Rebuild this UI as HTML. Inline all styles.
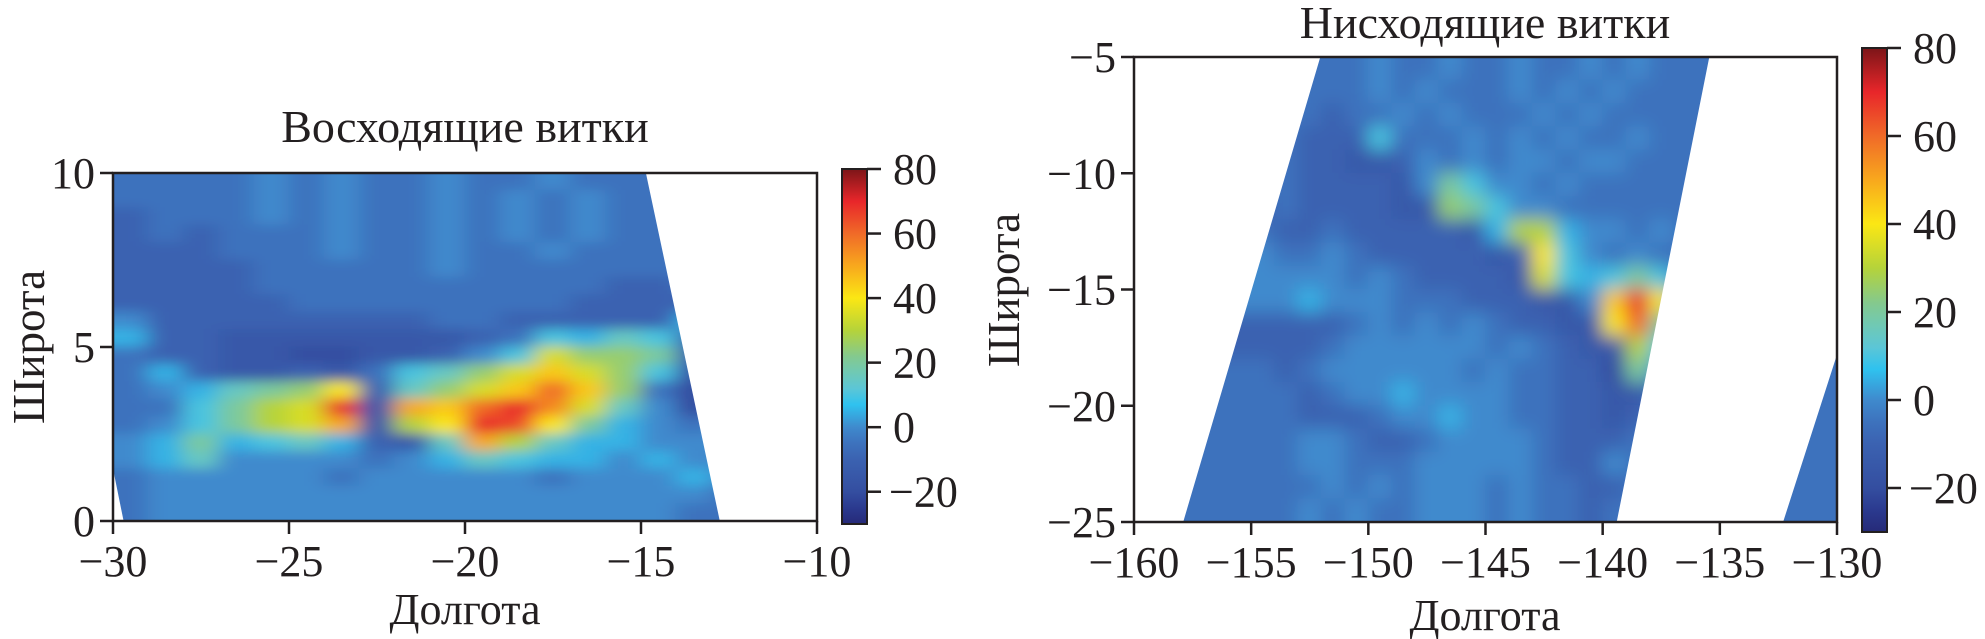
<!DOCTYPE html>
<html><head><meta charset="utf-8">
<style>
html,body{margin:0;padding:0;background:#fff;}
svg{display:block;font-family:"Liberation Serif",serif;}
</style></head>
<body>
<svg id="fig" width="1985" height="639" viewBox="0 0 1985 639" xmlns="http://www.w3.org/2000/svg">
<defs>
<linearGradient id="cbgrad" x1="0" y1="1" x2="0" y2="0"></linearGradient>
<filter id="blurL" filterUnits="userSpaceOnUse" x="0" y="0" width="1985" height="639"><feGaussianBlur stdDeviation="11 6"/></filter>
<filter id="blurR" filterUnits="userSpaceOnUse" x="0" y="0" width="1985" height="639"><feGaussianBlur stdDeviation="9 9"/></filter>
</defs>
<text x="465" y="142" font-size="46" text-anchor="middle" fill="#231f20">Восходящие витки</text>
<text x="1485" y="38" font-size="46" text-anchor="middle" fill="#231f20">Нисходящие витки</text>
<text x="465" y="624" font-size="44" text-anchor="middle" fill="#231f20">Долгота</text>
<text x="1485" y="630" font-size="44" text-anchor="middle" fill="#231f20">Долгота</text>
<text transform="translate(44,347) rotate(-90)" font-size="45" text-anchor="middle" fill="#231f20">Широта</text>
<text transform="translate(1019,290) rotate(-90)" font-size="45" text-anchor="middle" fill="#231f20">Широта</text>
</svg>
<script>
// ---- data ----
const levelChars = "0123456789abcdefghijklm"; // value = -30 + 5*k
const leftGrid = [
"55556565565565555555",
"55556565565656555555",
"45556565565656555555",
"45455565565656555555",
"44455565565565555555",
"44445555565555555555",
"44445555555555445555",
"44444555555554444555",
"64444444455444447655",
"74433333334587984555",
"54433223346" + "8dbba4555",
"57433435" + "89bdfdb8" + "3555",
"5679abe49bdfifb52455",
"558acdk3gfikhd962455",
"568acdg3cekjea765655",
"67a7897439gc97766655",
"67966665679877676655",
"56666656666656667655",
"56666666666666666555",
"56666666666666665555"
];
const rightGrid = [
"555555555565565565565655555555",
"555555555565655565656555555555",
"555555554556565556565555555555",
"555555544485556565655655555555",
"555555544334656566566555555555",
"5555555444436a86656" + "55555555555",
"5555545444433ba8665" + "55555555555",
"55555544544444" + "37cc76" + "6565555555",
"55556" + "6556544444" + "34e86" + "5655555555",
"55566" + "66665654444" + "3d878a8" + "5555555",
"55666" + "667666555444" + "336fke" + "5555555",
"55544" + "4444565656544" + "33eia" + "5555555",
"55544" + "44456666665654" + "33c8" + "5555555",
"55555" + "545666666565544" + "2a6" + "5555555",
"55555" + "554566766665544" + "33" + "55555555",
"55555" + "554445667665544" + "3" + "455555555",
"55555" + "556654456666544" + "4" + "555555555",
"55555" + "556655566666544" + "6" + "555555555",
"55555" + "555656566656554" + "4" + "555555555",
"55555" + "556565566656554" + "5" + "555555555"
];
const cbTicks = [80, 60, 40, 20, 0, -20];
const leftXTicks = [-30, -25, -20, -15, -10];
const leftYTicks = [0, 5, 10];
const rightXTicks = [-160, -155, -150, -145, -140, -135, -130];
const rightYTicks = [-25, -20, -15, -10, -5];
const cmapValues = [-30, -25, -20, -10, -5, 0, 7, 12, 17, 22, 30, 40, 50, 60, 70, 80];
const cmapColors = ["#262a78","#2b3a8f","#344ea0","#3b62b1","#3d72bd","#3f8acd","#2fc2ef","#5cc6d6","#70c9b4","#84c98e","#b5d33a","#fbe714","#f8a81d","#f06a28","#e8262a","#7c1518"];
const leftSwath = [[-30,10],[-14.86,10],[-12.76,0],[-29.7,0],[-30,1.5]];
const rightSwaths = [
  [[-152.05,-5],[-135.45,-5],[-139.4,-25],[-157.9,-25]],
  [[-130,-17.8],[-130,-25],[-132.3,-25]]
];

// ---- helpers ----
const NS = "http://www.w3.org/2000/svg";
const svg = document.getElementById("fig");
function mk(tag, attrs, parent) {
  const e = document.createElementNS(NS, tag);
  for (const k in attrs) e.setAttribute(k, attrs[k]);
  (parent || svg).appendChild(e);
  return e;
}
function hex2rgb(h){return [parseInt(h.slice(1,3),16),parseInt(h.slice(3,5),16),parseInt(h.slice(5,7),16)];}
function cmap(v){
  if (v <= cmapValues[0]) return cmapColors[0];
  for (let i=1;i<cmapValues.length;i++){
    if (v <= cmapValues[i]){
      const t=(v-cmapValues[i-1])/(cmapValues[i]-cmapValues[i-1]);
      const a=hex2rgb(cmapColors[i-1]), b=hex2rgb(cmapColors[i]);
      return "rgb("+a.map((x,k)=>Math.round(x+(b[k]-x)*t)).join(",")+")";
    }
  }
  return cmapColors[cmapColors.length-1];
}
function charVal(c){return -30 + 5*levelChars.indexOf(c);}
function fmt(v){return v<0 ? "\u2212"+Math.abs(v) : String(v);}

const grad = document.getElementById("cbgrad");
cmapValues.forEach((v,i)=>{
  mk("stop",{offset:((v+30)/110*100)+"%","stop-color":cmapColors[i]},grad);
});

function panel(cfg){
  const xS = v => cfg.px0 + (v-cfg.lon0)/(cfg.lon1-cfg.lon0)*(cfg.px1-cfg.px0);
  const yS = v => cfg.py1 - (v-cfg.lat0)/(cfg.lat1-cfg.lat0)*(cfg.py1-cfg.py0);
  const id = cfg.id;
  const clip = mk("clipPath",{id:id+"-clip"}, svg.querySelector("defs"));
  cfg.swaths.forEach(poly=>{
    mk("polygon",{points:poly.map(p=>xS(p[0]).toFixed(1)+","+yS(p[1]).toFixed(1)).join(" ")},clip);
  });
  const outer = mk("g",{"clip-path":"url(#"+id+"-clip)"});
  
  
  const g = mk("g",{filter:"url(#"+cfg.blur+")"},outer);
  const rows = cfg.grid.length, cols = cfg.grid[0].length;
  for (let j=0;j<rows;j++){
    for (let i=0;i<cols;i++){
      const v = charVal(cfg.grid[j][i]);
      const lonA = cfg.lon0 + i*cfg.dLon, lonB = lonA + cfg.dLon;
      const latA = cfg.lat1 - j*cfg.dLat, latB = latA - cfg.dLat;
      let x = xS(lonA), x2 = xS(lonB), y = yS(latA), y2 = yS(latB);
      if (i===0) x -= 40; if (i===cols-1) x2 += 40;
      if (j===0) y -= 40; if (j===rows-1) y2 += 40;
      const r = mk("rect",{x:x-0.5,y:y-0.5,width:x2-x+1,height:y2-y+1,fill:cmap(v)},g);
      
      
    }
  }
  const fr = mk("rect",{x:cfg.px0,y:cfg.py0,width:cfg.px1-cfg.px0,height:cfg.py1-cfg.py0,fill:"none",stroke:"#231f20","stroke-width":2.5});
  
  
  cfg.xTicks.forEach(t=>{
    const x = xS(t);
    const l = mk("line",{x1:x,x2:x,y1:cfg.py1,y2:cfg.py1+13,stroke:"#231f20","stroke-width":2.5});
    
    
    const tx = mk("text",{x:x,y:cfg.py1+55,"font-size":44,"text-anchor":"middle",fill:"#231f20"});
    tx.textContent = fmt(t);
    
    
  });
  cfg.yTicks.forEach(t=>{
    const y = yS(t);
    const l = mk("line",{x1:cfg.px0-13,x2:cfg.px0,y1:y,y2:y,stroke:"#231f20","stroke-width":2.5});
    
    
    const tx = mk("text",{x:cfg.px0-18,y:y+15,"font-size":44,"text-anchor":"end",fill:"#231f20"});
    tx.textContent = fmt(t);
    
    
  });
  const cb = cfg.cb;
  const cS = v => cb.y1 - (v+30)/110*(cb.y1-cb.y0);
  const bar = mk("rect",{x:cb.x0,y:cb.y0,width:cb.x1-cb.x0,height:cb.y1-cb.y0,fill:"url(#cbgrad)",stroke:"#231f20","stroke-width":2});
  
  
  cbTicks.forEach(t=>{
    const y = cS(t);
    const l = mk("line",{x1:cb.x1,x2:cb.x1+14,y1:y,y2:y,stroke:"#231f20","stroke-width":2.5});
    
    
    const tx = mk("text",{x:cb.x1+(t<0?22:26),y:y+15,"font-size":44,fill:"#231f20"});
    tx.textContent = fmt(t);
    
    
  });
}

panel({id:"left", grid:leftGrid, swaths:[leftSwath], blur:"blurL",
  lon0:-30, lon1:-10, lat0:0, lat1:10, dLon:1, dLat:0.5,
  px0:113, px1:817, py0:173, py1:521,
  xTicks:leftXTicks, yTicks:leftYTicks,
  cb:{x0:842,x1:867,y0:169,y1:524}});
panel({id:"right", grid:rightGrid, swaths:rightSwaths, blur:"blurR",
  lon0:-160, lon1:-130, lat0:-25, lat1:-5, dLon:1, dLat:1,
  px0:1134, px1:1837, py0:57, py1:522,
  xTicks:rightXTicks, yTicks:rightYTicks,
  cb:{x0:1862,x1:1887,y0:48,y1:532}});
</script>
</body></html>
